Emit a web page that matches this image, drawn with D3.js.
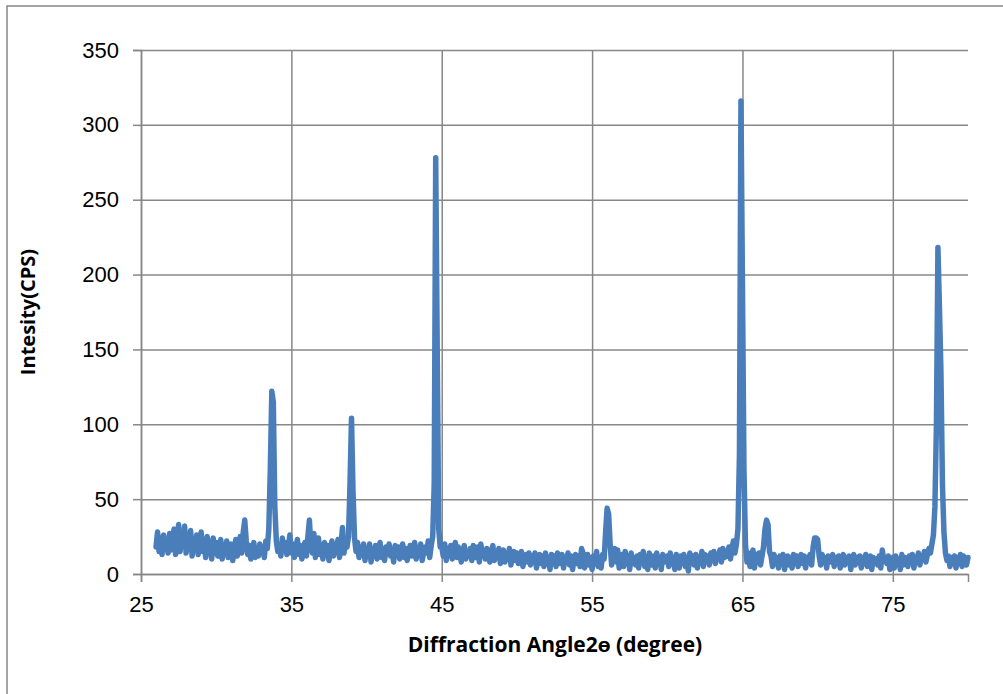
<!DOCTYPE html>
<html>
<head>
<meta charset="utf-8">
<script src="https://cdn.jsdelivr.net/npm/d3@7"></script>
<style>
  body { margin: 0; background: #fff; }
  svg { display: block; font-family: "Open Sans", "Liberation Sans", sans-serif; }
</style>
</head>
<body>
<div id="chart"></div>
<script>
// XRD scan, 26.0 to 80.0 deg, 0.1 deg per reading (one row per degree)
const angleStart = 26.0;
const angleStep = 0.1;
const intensity = [
  18,28,15,24,13,26,17,22,14,27,   // 26
  16,25,30,13,22,33,15,28,19,32,   // 27
  14,24,18,29,12,22,17,26,13,21,   // 28
  28,15,22,11,25,17,20,10,24,14,   // 29
  21,12,19,23,10,18,14,22,11,17,   // 30
  20,9,16,23,12,18,25,14,28,36,    // 31
  22,13,19,10,17,21,11,16,12,20,   // 32
  14,18,11,22,17,30,70,122,115,45, // 33
  22,15,19,12,24,17,21,13,18,26,   // 34
  14,20,11,17,23,13,19,10,16,21,   // 35
  12,25,36,18,14,27,11,19,24,13,   // 36
  17,10,21,14,19,9,16,22,12,18,    // 37
  15,23,11,19,31,14,22,18,25,60,   // 38
  104,55,24,15,21,11,18,13,20,9,   // 39
  17,12,20,8,16,13,19,10,15,21,    // 40
  11,17,9,18,14,20,12,16,8,19,     // 41
  13,18,10,15,20,11,17,9,14,19,    // 42
  12,16,21,10,17,13,20,9,15,18,    // 43
  14,22,11,19,25,60,278,150,30,18, // 44
  18,12,20,9,17,14,19,10,16,21,    // 45
  11,18,13,8,16,19,10,15,12,17,    // 46
  9,19,14,11,18,8,20,13,16,10,     // 47
  17,12,8,15,19,9,14,11,17,7,      // 48
  13,16,8,14,10,17,6,12,15,9,      // 49
  14,7,12,15,5,11,13,8,14,6,       // 50
  12,9,14,4,11,13,7,12,5,14,       // 51
  8,11,3,13,9,12,5,14,7,10,        // 52
  13,4,11,8,14,6,12,3,10,13,       // 53
  7,12,5,17,14,4,9,13,6,11,        // 54
  3,12,8,15,5,11,4,13,10,28,       // 55
  44,40,20,6,14,17,8,16,4,11,      // 56
  13,5,15,9,12,3,14,7,11,6,        // 57
  12,4,13,8,15,5,11,3,14,9,        // 58
  6,12,4,14,7,11,3,13,8,10,        // 59
  12,5,14,7,11,3,13,9,4,12,        // 60
  8,13,5,11,2,14,7,12,6,13,        // 61
  4,11,8,15,5,13,9,12,6,14,        // 62
  9,15,7,13,10,16,8,17,11,14,      // 63
  12,18,10,17,22,14,20,30,80,316,  // 64
  193,70,20,8,14,5,12,16,4,13,     // 65
  9,14,6,12,18,30,36,33,15,12,     // 66
  5,13,8,11,4,12,7,13,3,10,        // 67
  12,6,11,4,13,8,12,5,10,13,       // 68
  7,12,4,11,8,13,6,18,24,24,       // 69
  23,12,6,13,9,11,4,12,8,10,       // 70
  13,5,11,8,12,4,10,13,6,11,       // 71
  9,12,3,10,13,6,11,8,12,4,        // 72
  11,7,13,5,10,12,3,11,8,10,       // 73
  6,12,4,16,9,11,7,12,3,10,        // 74
  11,4,12,7,10,3,13,6,11,9,        // 75
  5,12,8,13,4,11,9,14,6,12,        // 76
  10,15,8,13,17,14,20,26,45,100,   // 77
  218,178,135,60,28,14,9,12,5,11,  // 78
  8,12,4,11,7,13,5,12,9,6,         // 79
  11                               // 80
];
const xTicks = [25, 35, 45, 55, 65, 75];
const yTicks = [0, 50, 100, 150, 200, 250, 300, 350];

const width = 1003, height = 694;
const margin = {left: 141, right: 35, top: 50, bottom: 120};
const grey = "#878787";

const svg = d3.select("#chart").append("svg")
  .attr("width", width)
  .attr("height", height);

// chart frame
svg.append("rect")
  .attr("x", 7).attr("y", 6)
  .attr("width", 1200).attr("height", 900)
  .attr("fill", "none")
  .attr("stroke", grey)
  .attr("stroke-width", 1.5);

const x = d3.scaleLinear().domain([25, 80]).range([margin.left, width - margin.right]);
const y = d3.scaleLinear().domain([0, 350]).range([height - margin.bottom, margin.top]);

// horizontal gridlines + y axis
svg.append("g")
  .attr("transform", `translate(${margin.left},0)`)
  .call(d3.axisLeft(y).tickValues(yTicks).tickSize(8).tickPadding(14))
  .call(g => g.select(".domain").attr("stroke", grey).attr("stroke-width", 1.5))
  .call(g => g.selectAll(".tick line").attr("stroke", grey).attr("stroke-width", 1.5))
  .call(g => g.selectAll(".tick").append("line")
    .attr("x2", x(80) - margin.left)
    .attr("stroke", grey).attr("stroke-width", 1.5))
  .call(g => g.selectAll("text").attr("font-size", 22).attr("fill", "#000"));

// vertical gridlines + x axis
svg.append("g")
  .attr("transform", `translate(0,${y(0)})`)
  .call(d3.axisBottom(x).tickValues(xTicks).tickSize(8).tickPadding(14))
  .call(g => g.select(".domain").attr("stroke", grey).attr("stroke-width", 1.5))
  .call(g => g.selectAll(".tick line").attr("stroke", grey).attr("stroke-width", 1.5))
  .call(g => g.selectAll(".tick").append("line")
    .attr("y2", y(350) - y(0))
    .attr("stroke", grey).attr("stroke-width", 1.5))
  .call(g => g.selectAll("text").attr("font-size", 22).attr("fill", "#000"));

const data = intensity.map((v, i) => ({angle: angleStart + i * angleStep, cps: v}));

svg.append("path")
  .datum(data)
  .attr("fill", "none")
  .attr("stroke", "#4a7ebb")
  .attr("stroke-width", 5.5)
  .attr("stroke-linejoin", "round")
  .attr("stroke-linecap", "round")
  .attr("d", d3.line().x(d => x(d.angle)).y(d => y(d.cps)));

svg.append("text")
  .attr("x", 555).attr("y", 652)
  .attr("text-anchor", "middle")
  .attr("font-size", 21).attr("font-weight", "bold")
  .text("Diffraction Angle2ɵ (degree)");

svg.append("text")
  .attr("transform", "translate(35,312) rotate(-90)")
  .attr("text-anchor", "middle")
  .attr("font-size", 20).attr("font-weight", "bold")
  .text("Intesity(CPS)");
</script>
</body>
</html>
